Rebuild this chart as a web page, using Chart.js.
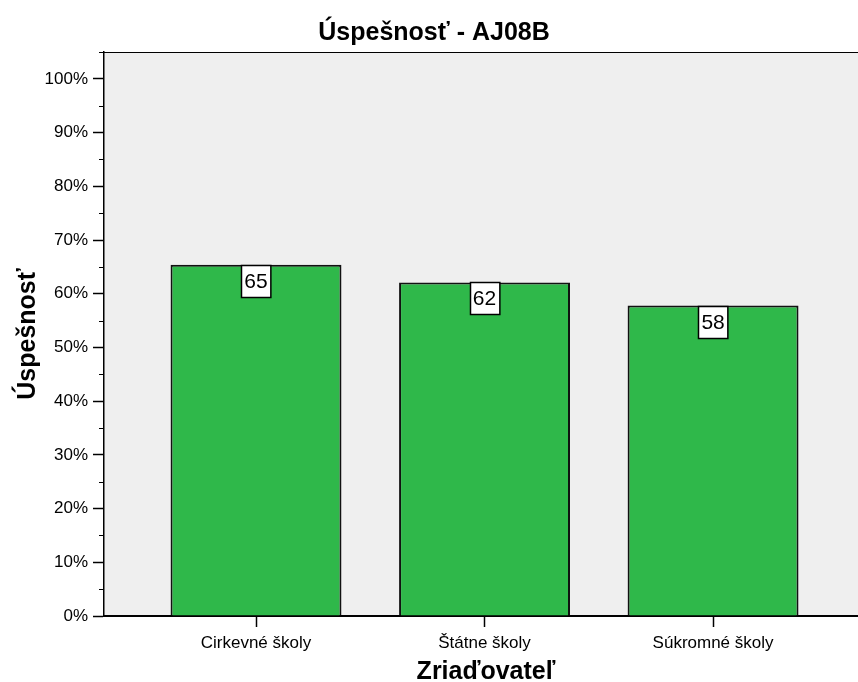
<!DOCTYPE html>
<html>
<head>
<meta charset="utf-8">
<script src="https://cdn.jsdelivr.net/npm/chart.js@4/dist/chart.umd.min.js"></script>
<style>
  html, body { margin: 0; padding: 0; background: #fff; }
  #wrap { width: 858px; height: 682px; overflow: hidden; position: relative; }
  #box { width: 880px; height: 682px; }
</style>
</head>
<body>
<div id="wrap"><div id="box"><canvas id="c" width="880" height="682"></canvas></div></div>
<script>
const categories = ['Cirkevné školy', 'Štátne školy', 'Súkromné školy'];
const categoryPositions = [1, 2, 3];
const successValues = [65.4, 62.1, 57.8];
const yTickValues = [0, 10, 20, 30, 40, 50, 60, 70, 80, 90, 100];

const FONT = "'Liberation Sans', Arial, sans-serif";

const bgPlugin = {
  id: 'bgPlugin',
  beforeDraw(chart) {
    const { ctx, chartArea: a } = chart;
    ctx.save();
    ctx.fillStyle = '#efefef';
    ctx.fillRect(a.left, a.top, a.right - a.left, a.bottom - a.top);
    ctx.restore();
  },
  afterDraw(chart) {
    const { ctx, chartArea: a } = chart;
    ctx.save();
    ctx.strokeStyle = '#000';
    ctx.lineWidth = 1;
    ctx.beginPath();
    ctx.moveTo(a.left, a.top + 0.5);
    ctx.lineTo(a.right, a.top + 0.5);
    ctx.stroke();
    const ys = chart.scales.y;
    ys.ticks.forEach(t => {
      if (t.value % 10 !== 0) {
        const py = Math.round(ys.getPixelForValue(t.value)) + 0.5;
        ctx.beginPath();
        ctx.moveTo(a.left - 5, py);
        ctx.lineTo(a.left, py);
        ctx.stroke();
      }
    });
    ctx.restore();
  }
};

const labelPlugin = {
  id: 'labelPlugin',
  afterDatasetsDraw(chart) {
    const { ctx } = chart;
    const meta = chart.getDatasetMeta(0);
    ctx.save();
    ctx.font = '21px ' + FONT;
    ctx.textAlign = 'center';
    ctx.textBaseline = 'middle';
    meta.data.forEach((el, i) => {
      const txt = String(Math.round(successValues[i]));
      const w = ctx.measureText(txt).width + 6;
      const h = 32;
      const x = Math.round(el.x - w / 2) + 0.5;
      const y = Math.round(el.y) + 0.5;
      ctx.fillStyle = '#fff';
      ctx.fillRect(x, y, w, h);
      ctx.strokeStyle = '#000';
      ctx.lineWidth = 1.5;
      ctx.strokeRect(x, y, w, h);
      ctx.fillStyle = '#000';
      ctx.fillText(txt, el.x, y + h / 2 + 1);
    });
    ctx.restore();
  }
};

new Chart(document.getElementById('c'), {
  type: 'bar',
  data: {
    datasets: [{
      data: categoryPositions.map((x, i) => ({ x: x, y: successValues[i] })),
      backgroundColor: '#2fb84a',
      borderColor: '#111',
      borderWidth: 2,
      barPercentage: 0.748,
      categoryPercentage: 1
    }]
  },
  options: {
    responsive: false,
    animation: false,
    events: [],
    layout: { padding: { left: 0, right: 12, top: 0, bottom: 0 } },
    plugins: {
      legend: { display: false },
      tooltip: { enabled: false },
      title: {
        display: true,
        text: 'Úspešnosť - AJ08B',
        color: '#000',
        font: { family: FONT, size: 25, weight: 'bold', lineHeight: 1.2 },
        padding: { top: 18, bottom: 4 }
      }
    },
    scales: {
      x: {
        type: 'linear',
        offset: false,
        min: 0.3348,
        max: 3.678,
        afterBuildTicks(scale) { scale.ticks = categoryPositions.map(v => ({ value: v })); },
        afterFit(scale) { scale.height = 66; },
        ticks: {
          color: '#000',
          font: { family: FONT, size: 17 },
          padding: 6,
          maxRotation: 0,
          autoSkip: false,
          callback: (v) => categories[categoryPositions.indexOf(v)] || ''
        },
        grid: { offset: false, drawOnChartArea: false, tickLength: 11, color: '#000', tickColor: '#000', tickWidth: 1.5 },
        border: { display: true, color: '#000', width: 2 },
        title: {
          display: true,
          text: 'Zriaďovateľ',
          color: '#000',
          font: { family: FONT, size: 25, weight: 'bold', lineHeight: 0.8 },
          padding: { top: 0, bottom: 0 }
        }
      },
      y: {
        min: 0,
        max: 105,
        afterBuildTicks(scale) {
          const t = [];
          for (let v = 0; v <= 105; v += 5) t.push({ value: v });
          scale.ticks = t;
        },
        afterFit(scale) { scale.width = 104; },
        ticks: {
          color: '#000',
          font: { family: FONT, size: 17 },
          padding: 5,
          autoSkip: false,
          callback: (v) => yTickValues.includes(v) ? v + '%' : ''
        },
        grid: {
          drawOnChartArea: false,
          tickLength: 11,
          tickWidth: 1.5,
          tickColor: (ctx) => (ctx.tick && yTickValues.includes(ctx.tick.value)) ? '#000' : 'rgba(0,0,0,0)'
        },
        border: { display: true, color: '#000', width: 1.5 },
        title: {
          display: true,
          text: 'Úspešnosť',
          color: '#000',
          font: { family: FONT, size: 25, weight: 'bold', lineHeight: 1.2 },
          padding: { top: 13, bottom: 0 }
        }
      }
    }
  },
  plugins: [bgPlugin, labelPlugin]
});
</script>
</body>
</html>
